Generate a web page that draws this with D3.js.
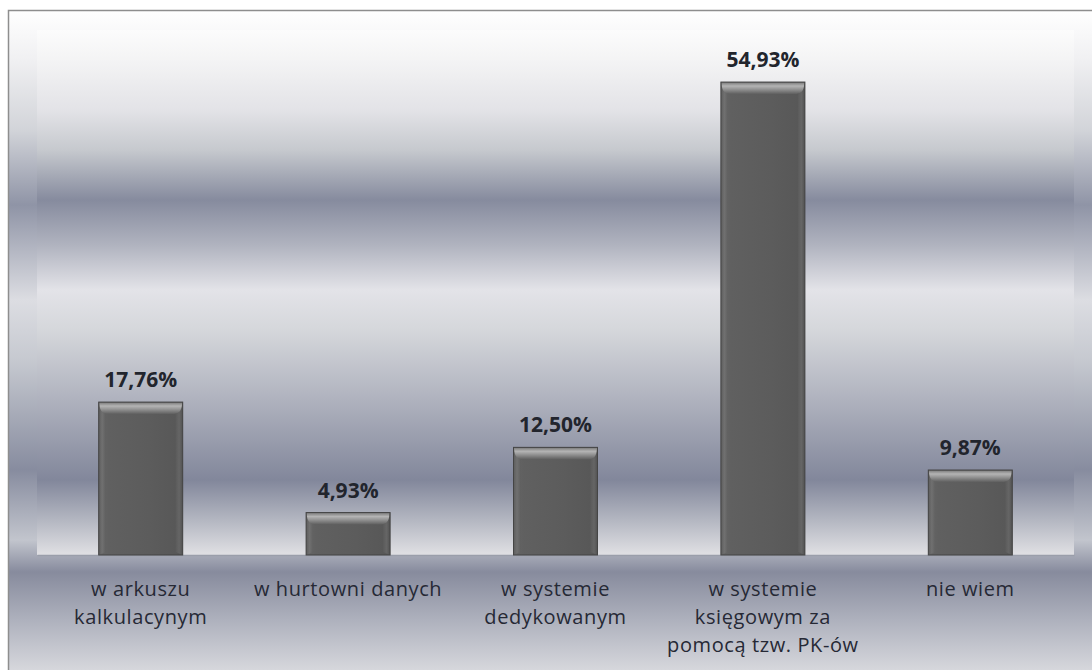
<!DOCTYPE html>
<html>
<head>
<meta charset="utf-8">
<script src="https://cdn.jsdelivr.net/npm/d3@7"></script>
<style>
  html, body { margin: 0; padding: 0; background: #ffffff; }
  svg { display: block; }
</style>
</head>
<body>
<svg id="chart" width="1092" height="670"></svg>
<script>
// Gdzie przechowywane są dane — odpowiedzi w procentach
const categories = [
  "w arkuszu\nkalkulacynym",
  "w hurtowni danych",
  "w systemie\ndedykowanym",
  "w systemie\nksięgowym za\npomocą tzw. PK-ów",
  "nie wiem"
];
const values = [17.76, 4.93, 12.50, 54.93, 9.87];
const valueLabels = ["17,76%", "4,93%", "12,50%", "54,93%", "9,87%"];

const svg = d3.select("#chart");
const defs = svg.append("defs");

const plot = { left: 37, right: 1074, top: 30, bottom: 555 };

function vGradient(id, y1, y2, stops) {
  const g = defs.append("linearGradient")
    .attr("id", id)
    .attr("gradientUnits", "userSpaceOnUse")
    .attr("x1", 0).attr("x2", 0).attr("y1", y1).attr("y2", y2);
  stops.forEach(([y, c]) => g.append("stop")
    .attr("offset", (y - y1) / (y2 - y1)).attr("stop-color", c));
}

function hGradient(id, stops) {
  const g = defs.append("linearGradient").attr("id", id)
    .attr("x1", 0).attr("x2", 1).attr("y1", 0).attr("y2", 0);
  stops.forEach(([o, c]) => g.append("stop").attr("offset", o).attr("stop-color", c));
}

// chart area background (chrome style)
vGradient("chartBg", 10, 670, [
  [10, "#ffffff"], [60, "#f0f0f2"], [130, "#d2d4d9"], [205, "#8f94a6"],
  [300, "#dcdde2"], [360, "#c6c9d0"], [470, "#878c9f"], [540, "#c2c5cd"],
  [572, "#878b9d"], [620, "#aeb1bd"], [670, "#d6d7dc"]
]);

// plot area background
vGradient("plotBg", plot.top, plot.bottom, [
  [30, "#fcfcfc"], [62, "#f3f3f4"], [110, "#e3e3e7"], [150, "#c6c9ce"],
  [200, "#868b9e"], [245, "#b0b3bf"], [290, "#e3e3e8"], [330, "#d5d7db"],
  [400, "#afb2be"], [480, "#82879b"], [522, "#b6b9c3"], [553, "#dedee2"]
]);

// bar shading
hGradient("barFill", [[0, "#666666"], [0.12, "#606060"], [0.6, "#5c5c5c"], [1, "#575757"]]);
hGradient("leftBevel", [[0, "#5a5a5a"], [0.5, "#747474"], [1, "#606060"]]);
hGradient("rightBevel", [[0, "#5c5c5c"], [0.5, "#6a6a6a"], [1, "#505050"]]);

const topBevel = defs.append("linearGradient").attr("id", "topBevel")
  .attr("x1", 0).attr("x2", 0).attr("y1", 0).attr("y2", 1);
[[0, "#7e7e7e"], [0.3, "#b4b4b4"], [0.55, "#979797"], [1, "#5f5f5f"]]
  .forEach(([o, c]) => topBevel.append("stop").attr("offset", o).attr("stop-color", c));

// chart area with its frame
svg.append("rect")
  .attr("x", 8.5).attr("y", 10.5).attr("width", 1100).attr("height", 680)
  .attr("fill", "url(#chartBg)")
  .attr("stroke", "#8e8e8e").attr("stroke-width", 1.5);

svg.append("rect")
  .attr("x", plot.left).attr("y", plot.top)
  .attr("width", plot.right - plot.left).attr("height", plot.bottom - plot.top)
  .attr("fill", "url(#plotBg)");

// scales
const x = d3.scaleBand()
  .domain(d3.range(categories.length))
  .range([plot.left, plot.right])
  .paddingInner(0.595)
  .paddingOuter(0.2975);

const y = d3.scaleLinear()
  .domain([0, 60])
  .range([plot.bottom, 38.4]);

// category axis
const axis = svg.append("g")
  .attr("transform", `translate(0,${plot.bottom})`)
  .call(d3.axisBottom(x).tickSize(0).tickFormat(""));
axis.select(".domain").attr("stroke", "#9a9eaa").attr("stroke-width", 1.5);

axis.selectAll(".tick").each(function (d) {
  const t = d3.select(this).select("text")
    .attr("y", 0).attr("dy", null)
    .attr("font-family", "'Open Sans', sans-serif")
    .attr("font-size", 20)
    .attr("letter-spacing", 0.6)
    .attr("fill", "#262935")
    .attr("text-anchor", "middle");
  t.text(null);
  categories[d].split("\n").forEach((line, i) => {
    t.append("tspan").attr("x", 0).attr("y", 41 + i * 28).text(line);
  });
});

// bars
const bw = x.bandwidth();
const bars = svg.append("g").selectAll("g.bar")
  .data(values)
  .join("g")
  .attr("class", "bar");

bars.append("rect")
  .attr("x", (d, i) => x(i))
  .attr("y", d => y(d))
  .attr("width", bw)
  .attr("height", d => y(0) - y(d))
  .attr("fill", "url(#barFill)");

const bev = 7;
// left bevel
bars.append("path")
  .attr("d", (d, i) => {
    const x0 = x(i), y0 = y(d), y1 = y(0);
    return `M${x0},${y0} L${x0 + bev},${y0 + bev + 5} L${x0 + bev},${y1 - 3} L${x0},${y1} Z`;
  })
  .attr("fill", "url(#leftBevel)").attr("opacity", 0.75);
// right bevel
bars.append("path")
  .attr("d", (d, i) => {
    const x1 = x(i) + bw, y0 = y(d), y1 = y(0);
    return `M${x1},${y0} L${x1 - bev},${y0 + bev + 5} L${x1 - bev},${y1 - 3} L${x1},${y1} Z`;
  })
  .attr("fill", "url(#rightBevel)").attr("opacity", 0.75);
// top bevel with rounded inner corners
bars.append("path")
  .attr("d", (d, i) => {
    const x0 = x(i), x1 = x0 + bw, y0 = y(d), h = bev + 5;
    return `M${x0 + 0.5},${y0 + 0.5} L${x1 - 0.5},${y0 + 0.5} ` +
      `C${x1 - 1},${y0 + h - 2} ${x1 - 4},${y0 + h} ${x1 - bev - 4},${y0 + h} ` +
      `L${x0 + bev + 4},${y0 + h} ` +
      `C${x0 + 4},${y0 + h} ${x0 + 1},${y0 + h - 2} ${x0 + 0.5},${y0 + 0.5} Z`;
  })
  .attr("fill", "url(#topBevel)");
// outline
bars.append("rect")
  .attr("x", (d, i) => x(i))
  .attr("y", d => y(d))
  .attr("width", bw)
  .attr("height", d => y(0) - y(d))
  .attr("fill", "none")
  .attr("stroke", "#454545")
  .attr("stroke-width", 1);

// value labels
svg.append("g").selectAll("text")
  .data(values)
  .join("text")
  .attr("x", (d, i) => x(i) + bw / 2)
  .attr("y", d => y(d) - 15)
  .attr("text-anchor", "middle")
  .attr("font-family", "'Open Sans', sans-serif")
  .attr("font-weight", "bold")
  .attr("font-size", 21)
  .attr("fill", "#22252d")
  .text((d, i) => valueLabels[i]);
</script>
</body>
</html>
